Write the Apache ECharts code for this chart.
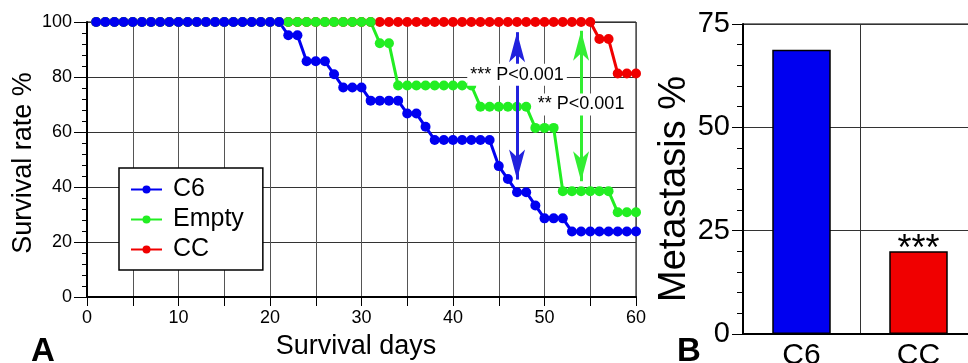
<!DOCTYPE html>
<html>
<head>
<meta charset="utf-8">
<script src="https://cdn.jsdelivr.net/npm/echarts@6/dist/echarts.min.js"></script>
<style>
html, body { margin: 0; padding: 0; background: #fff; }
#main { width: 968px; height: 363px; }
</style>
</head>
<body>
<div id="main"></div>
<script>
// survival curves (day 1..60)
var days = [1,2,3,4,5,6,7,8,9,10,11,12,13,14,15,16,17,18,19,20,
	21,22,23,24,25,26,27,28,29,30,31,32,33,34,35,36,37,38,39,40,
	41,42,43,44,45,46,47,48,49,50,51,52,53,54,55,56,57,58,59,60];
var c6Rate = [100,100,100,100,100,100,100,100,100,100,100,100,100,100,100,100,100,100,100,100,
	100,95.2,95.2,85.7,85.7,85.7,81.0,76.2,76.2,76.2,71.4,71.4,71.4,71.4,66.7,66.7,61.9,57.1,57.1,57.1,
	57.1,57.1,57.1,57.1,47.6,42.9,38.1,38.1,33.3,28.6,28.6,28.6,23.8,23.8,23.8,23.8,23.8,23.8,23.8,23.8];
var emptyRate = [100,100,100,100,100,100,100,100,100,100,100,100,100,100,100,100,100,100,100,100,
	100,100,100,100,100,100,100,100,100,100,100,92.3,92.3,76.9,76.9,76.9,76.9,76.9,76.9,76.9,
	76.9,76.9,69.2,69.2,69.2,69.2,69.2,69.2,61.5,61.5,61.5,38.5,38.5,38.5,38.5,38.5,38.5,30.8,30.8,30.8];
var ccRate = [100,100,100,100,100,100,100,100,100,100,100,100,100,100,100,100,100,100,100,100,
	100,100,100,100,100,100,100,100,100,100,100,100,100,100,100,100,100,100,100,100,
	100,100,100,100,100,100,100,100,100,100,100,100,100,100,100,93.8,93.8,81.3,81.3,81.3];

// p-value arrows and notes
var arrowDay = [47, 54];
var arrowTop = [96.3, 96.8];
var arrowBottom = [42.7, 42.1];
var noteY = [80.8, 70];
var noteText = ['*** P<0.001', '** P<0.001'];

// metastasis bars
var groups = ['C6', 'CC'];
var metastasis = [68.8, 20];
var barColors = ['#0000f0', '#f00000'];
var barStars = ['', '***'];

var xTicks = [0, 10, 20, 30, 40, 50, 60];

function pairs(xs, ys) {
	var out = [];
	for (var i = 0; i < xs.length; i++) out.push([xs[i], ys[i]]);
	return out;
}

var myChart = echarts.init(document.getElementById('main'), null, {renderer: 'canvas'});

var option = {
	animation: false,
	textStyle: { fontFamily: 'Liberation Sans, Arial, sans-serif', color: '#000' },
	title: [
		{ text: 'A', left: 31, top: 335, padding: 0, textStyle: { fontSize: 33, fontWeight: 'bold', color: '#000' } },
		{ text: 'B', left: 677, top: 335, padding: 0, textStyle: { fontSize: 33, fontWeight: 'bold', color: '#000' } }
	],
	legend: {
		data: ['C6', 'Empty', 'CC'],
		orient: 'vertical',
		left: 119, top: 168,
		padding: [9, 19, 8, 11],
		itemWidth: 31, itemHeight: 10, itemGap: 5,
		backgroundColor: '#fff',
		borderColor: '#000', borderWidth: 1.5, borderRadius: 0,
		textStyle: { fontSize: 25, color: '#000', padding: [0, 0, 0, 6] }
	},
	grid: [
		{ left: 87, right: 332, top: 22, bottom: 66, show: true, borderColor: '#000', borderWidth: 1, outerBoundsMode: 'none' },
		{ left: 743, width: 234, top: 24, bottom: 29, show: true, borderColor: '#000', borderWidth: 1, outerBoundsMode: 'none' }
	],
	xAxis: [{
		gridIndex: 0, type: 'value', min: 0, max: 60, interval: 5,
		name: 'Survival days', nameLocation: 'middle', nameGap: 36,
		nameTextStyle: { fontSize: 27, color: '#000', padding: [0, 11, 0, 0] },
		axisLine: { lineStyle: { color: '#000', width: 2 } },
		axisTick: { length: 9, lineStyle: { color: '#000' } },
		axisLabel: {
			fontSize: 18, color: '#000', margin: 12,
			formatter: function (v) { return xTicks.indexOf(v) >= 0 ? String(v) : ''; }
		},
		splitLine: { show: true, lineStyle: { color: '#555', width: 1 } }
	}, {
		gridIndex: 1, type: 'category', data: groups,
		axisLine: { lineStyle: { color: '#000', width: 2 } },
		axisTick: { length: 12, lineStyle: { color: '#000' } },
		axisLabel: { fontSize: 30, color: '#000', margin: 7 },
		splitLine: { show: true, lineStyle: { color: '#333', width: 1 } }
	}],
	yAxis: [{
		gridIndex: 0, type: 'value', min: 0, max: 100, interval: 20,
		name: 'Survival rate %', nameLocation: 'middle', nameGap: 50, nameMoveOverlap: false,
		nameTextStyle: { fontSize: 27, color: '#000', padding: [0, 7, 0, 0] },
		axisLine: { show: true, lineStyle: { color: '#000', width: 2 } },
		axisTick: { show: true, length: 13, lineStyle: { color: '#000' } },
		minorTick: { show: true, splitNumber: 5, length: 5, lineStyle: { color: '#000' } },
		axisLabel: { fontSize: 18, color: '#000', margin: 15 },
		splitLine: { show: true, lineStyle: { color: '#333', width: 1 } }
	}, {
		gridIndex: 1, type: 'value', min: 0, max: 75, interval: 25,
		name: 'Metastasis %', nameLocation: 'middle', nameGap: 40,
		nameTextStyle: { fontSize: 38, color: '#000', padding: [0, 20, 0, 0] },
		axisLine: { show: true, lineStyle: { color: '#000', width: 2 } },
		axisTick: { show: true, length: 11, lineStyle: { color: '#000' } },
		minorTick: { show: true, splitNumber: 5, length: 6, lineStyle: { color: '#000' } },
		axisLabel: { fontSize: 29, color: '#000', margin: 13 },
		splitLine: { show: true, lineStyle: { color: '#333', width: 1 } }
	}],
	series: [{
		name: 'CC', type: 'line', xAxisIndex: 0, yAxisIndex: 0, clip: false,
		data: pairs(days, ccRate),
		symbol: 'circle', symbolSize: 10, showAllSymbol: true,
		itemStyle: { color: '#f00000' },
		lineStyle: { color: '#f00000', width: 3 }
	}, {
		name: 'Empty', type: 'line', xAxisIndex: 0, yAxisIndex: 0, clip: false,
		data: pairs(days, emptyRate),
		symbol: 'circle', symbolSize: 10, showAllSymbol: true,
		itemStyle: { color: '#22ee22' },
		lineStyle: { color: '#22ee22', width: 3 },
		markLine: {
			silent: true, symbol: ['arrow', 'arrow'], symbolSize: [12, 30],
			label: { show: false },
			lineStyle: { color: '#33ee33', width: 3, type: 'solid' },
			data: [[{ coord: [arrowDay[1], arrowTop[1]] }, { coord: [arrowDay[1], arrowBottom[1]] }]]
		}
	}, {
		name: 'C6', type: 'line', xAxisIndex: 0, yAxisIndex: 0, clip: false,
		data: pairs(days, c6Rate),
		symbol: 'circle', symbolSize: 10, showAllSymbol: true,
		itemStyle: { color: '#0000f0' },
		lineStyle: { color: '#0000f0', width: 3 },
		markLine: {
			silent: true, symbol: ['arrow', 'arrow'], symbolSize: [12, 30],
			label: { show: false },
			lineStyle: { color: '#2222dd', width: 3, type: 'solid' },
			data: [[{ coord: [arrowDay[0], arrowTop[0]] }, { coord: [arrowDay[0], arrowBottom[0]] }]]
		}
	}, {
		name: 'notes', type: 'scatter', xAxisIndex: 0, yAxisIndex: 0, zlevel: 1,
		data: pairs(arrowDay, noteY),
		symbol: 'rect', symbolSize: 1,
		itemStyle: { color: 'rgba(255,255,255,0)' },
		label: {
			show: true, position: 'inside', fontSize: 18, color: '#000',
			textBorderWidth: 0, opacity: 1,
			backgroundColor: '#fff', padding: [2, 3],
			formatter: function (p) { return noteText[p.dataIndex]; }
		}
	}, {
		name: 'Metastasis', type: 'bar', xAxisIndex: 1, yAxisIndex: 1,
		data: metastasis, barWidth: '50%',
		itemStyle: {
			borderColor: '#000', borderWidth: 1.5,
			color: function (p) { return barColors[p.dataIndex]; }
		},
		label: {
			show: true, position: 'top', distance: -17, fontSize: 36, color: '#000',
			formatter: function (p) { return barStars[p.dataIndex]; }
		}
	}]
};

myChart.setOption(option);
</script>
</body>
</html>
